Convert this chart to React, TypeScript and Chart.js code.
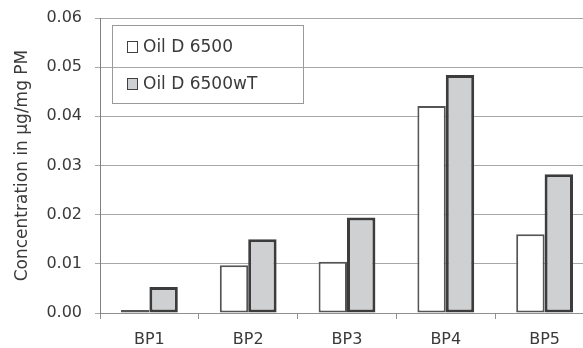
import React, { useEffect, useRef } from "react";
import { Chart, registerables } from "chart.js";

Chart.register(...registerables);

const categories = ["BP1", "BP2", "BP3", "BP4", "BP5"];
const seriesNames = ["Oil D 6500", "Oil D 6500wT"];
const oilD6500 = [0.0006, 0.0097, 0.0104, 0.0421, 0.016];
const oilD6500wT = [0.0053, 0.015, 0.0194, 0.0484, 0.0282];
const yTicks = [0, 0.01, 0.02, 0.03, 0.04, 0.05, 0.06];
const yTitle = "Concentration in µg/mg PM";

const FONT = "'DejaVu Sans', sans-serif";
const TEXT = "#3a3a3a";

const legendPlugin = {
  id: "boxLegend",
  afterDraw(chart: any) {
    const { ctx, chartArea } = chart;
    const x0 = Math.round(chartArea.left) + 12;
    const y0 = Math.round(chartArea.top) + 7;
    const w = 191;
    const h = 78;
    ctx.save();
    ctx.strokeStyle = "#9a9a9a";
    ctx.lineWidth = 1;
    ctx.strokeRect(x0 + 0.5, y0 + 0.5, w, h);
    ctx.font = `17px ${FONT}`;
    ctx.textBaseline = "middle";
    ctx.textAlign = "left";
    chart.data.datasets.forEach((ds: any, i: number) => {
      const cy = y0 + 22 + i * 37;
      ctx.fillStyle = ds.backgroundColor;
      ctx.fillRect(x0 + 15, cy - 6, 11, 12);
      ctx.strokeStyle = "#404040";
      ctx.lineWidth = 1;
      ctx.strokeRect(x0 + 15.5, cy - 5.5, 10, 11);
      ctx.fillStyle = TEXT;
      ctx.fillText(ds.label, x0 + 31, cy + 1);
    });
    ctx.restore();
  },
};

export default function App() {
  const ref = useRef<HTMLCanvasElement>(null);
  useEffect(() => {
    if (!ref.current) return;
    const chart = new Chart(ref.current, {
      type: "bar",
      data: {
        labels: categories,
        datasets: [
          {
            label: seriesNames[0],
            data: oilD6500,
            backgroundColor: "#ffffff",
            borderColor: "#555555",
            borderWidth: 2,
            borderSkipped: false,
          },
          {
            label: seriesNames[1],
            data: oilD6500wT,
            backgroundColor: "#cfd0d2",
            borderColor: "#3c3c3c",
            borderWidth: 3,
            borderSkipped: false,
          },
        ] as any,
      },
      options: {
        responsive: false,
        animation: false,
        devicePixelRatio: 1,
        layout: { padding: { top: 18, right: 1, left: 0, bottom: 0 } },
        datasets: { bar: { categoryPercentage: 0.575, barPercentage: 1.0, inflateAmount: 0 } } as any,
        plugins: { legend: { display: false }, tooltip: { enabled: false } },
        scales: {
          x: {
            grid: {
              offset: true,
              drawOnChartArea: false,
              drawTicks: true,
              tickLength: 6,
              color: "#909090",
            },
            border: { color: "#909090", width: 1 },
            ticks: {
              color: TEXT,
              font: { family: FONT, size: 16 },
              padding: 11,
            },
            afterFit(scale: any) {
              scale.height = 35;
            },
          },
          y: {
            min: 0,
            max: 0.06,
            afterBuildTicks(scale: any) {
              scale.ticks = yTicks.map((v) => ({ value: v }));
            },
            grid: { color: "#a8a8a8", lineWidth: 1, tickLength: 5 },
            border: { color: "#808080", width: 1 },
            ticks: {
              color: TEXT,
              font: { family: FONT, size: 16 },
              padding: 13,
              callback: (v: any) => Number(v).toFixed(2),
            },
            title: {
              display: true,
              text: yTitle,
              color: TEXT,
              font: { family: FONT, size: 17, weight: "normal" },
              padding: { top: 12, bottom: 0 },
            },
            afterFit(scale: any) {
              scale.width = 100;
              scale.paddingTop = 9;
              scale.paddingBottom = 9;
            },
          },
        },
      },
      plugins: [legendPlugin],
    });
    return () => chart.destroy();
  }, []);
  return (
    <div
      style={{
        position: "fixed",
        left: 0,
        top: 0,
        width: 583,
        height: 348,
        overflow: "hidden",
        background: "#ffffff",
      }}
    >
      <canvas
        ref={ref}
        width={595}
        height={348}
        style={{ display: "block", width: 595, height: 348 }}
      />
    </div>
  );
}
